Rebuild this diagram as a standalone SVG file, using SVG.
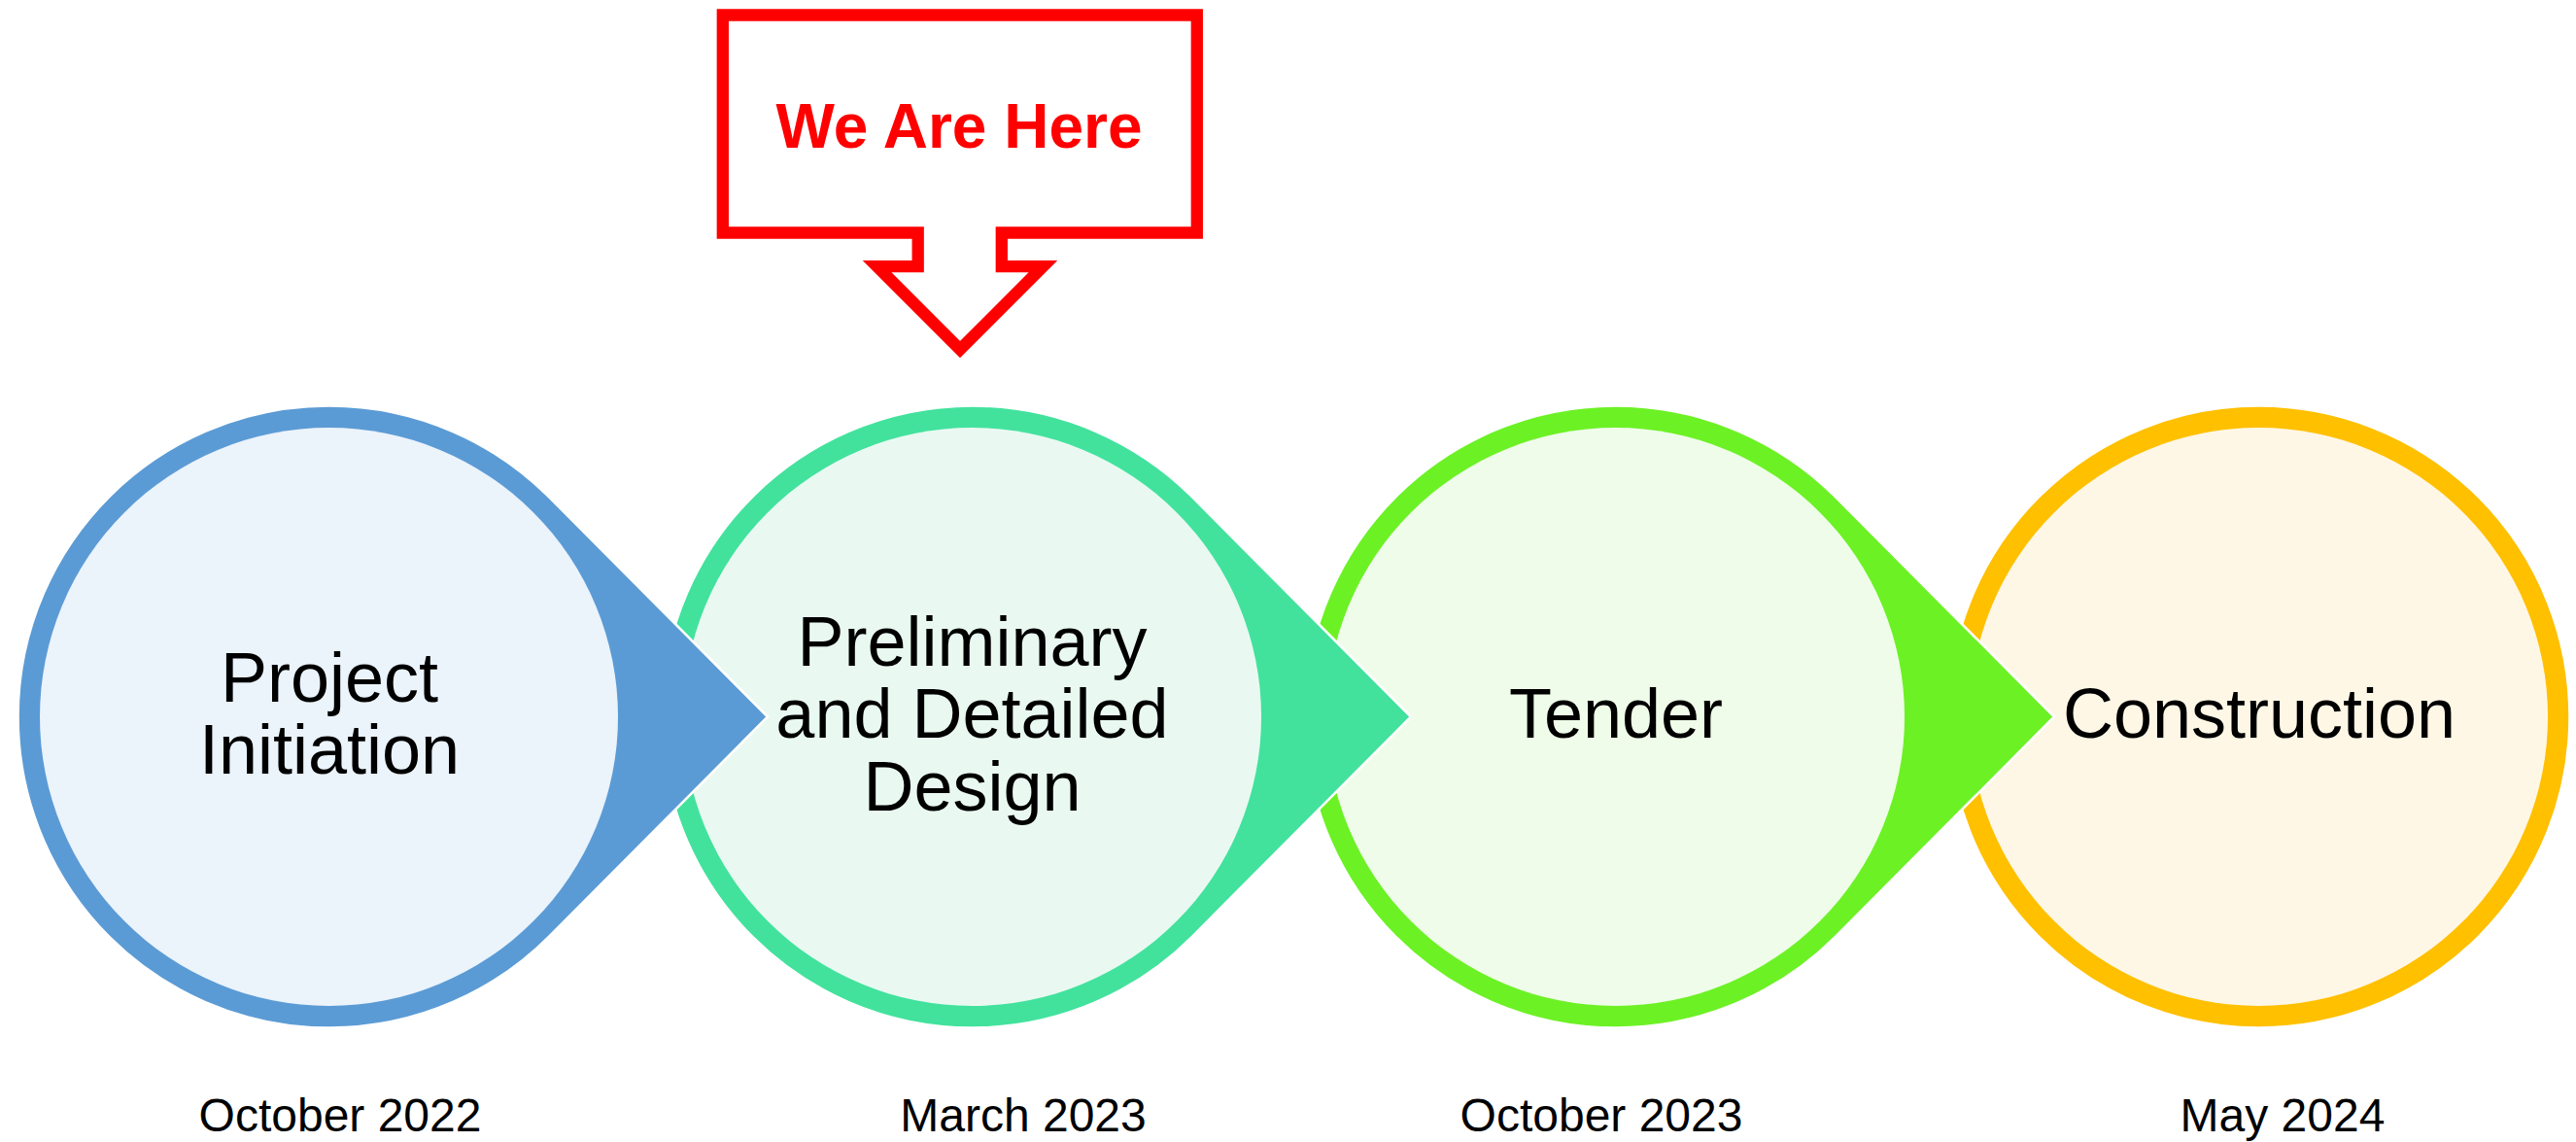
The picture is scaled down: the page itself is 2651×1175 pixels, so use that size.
<svg xmlns="http://www.w3.org/2000/svg" width="2651" height="1175" viewBox="0 0 2651 1175">
<style>
.outer{stroke:#FFFFFF;stroke-width:2.5}
.lbl{font-family:"Liberation Sans",Arial,sans-serif;font-size:72px;fill:#000000;text-anchor:middle}
.date{font-family:"Liberation Sans",Arial,sans-serif;font-size:48px;fill:#000000;text-anchor:middle}
.here{font-family:"Liberation Sans",Arial,sans-serif;font-size:64px;font-weight:bold;fill:#FF0000;text-anchor:middle}
</style>
<rect x="0" y="0" width="2651" height="1175" fill="#FFFFFF"/>
<g id="node-construction">
  <circle class="outer" cx="2324.5" cy="737.5" r="320" fill="#FFC000"/>
  <circle cx="2324.5" cy="737.5" r="297.5" fill="#FFF7E6"/>
  <text class="lbl" x="2325" y="758.5">Construction</text>
</g>
<g id="node-tender">
  <path class="outer" d="M2114 737.5 L1889.3 511.7 A320 320 0 1 0 1889.3 963.3 Z" fill="#6CF125"/>
  <circle cx="1662.5" cy="737.5" r="297.5" fill="#EFFCE9"/>
  <text class="lbl" x="1663" y="758.5">Tender</text>
</g>
<g id="node-design">
  <path class="outer" d="M1452 737.5 L1227.3 511.7 A320 320 0 1 0 1227.3 963.3 Z" fill="#42E29D"/>
  <circle cx="1000.5" cy="737.5" r="297.5" fill="#E9F9F2"/>
  <text class="lbl" x="1000.5" y="685">Preliminary</text>
  <text class="lbl" x="1000.5" y="759.3">and Detailed</text>
  <text class="lbl" x="1000.5" y="834">Design</text>
</g>
<g id="node-initiation">
  <path class="outer" d="M790 737.5 L565.3 511.7 A320 320 0 1 0 565.3 963.3 Z" fill="#5B9BD5"/>
  <circle cx="338.5" cy="737.5" r="297.5" fill="#EBF3FB"/>
  <text class="lbl" x="339" y="722.3">Project</text>
  <text class="lbl" x="339" y="796.4">Initiation</text>
</g>
<g id="callout-we-are-here">
  <polygon points="743.8,15.5 1231.8,15.5 1231.8,239.5 1030.8,239.5 1030.8,274.2 1073.4,274.2 988,359.6 902.6,274.2 944.7,274.2 944.7,239.5 743.8,239.5" fill="#FFFFFF" stroke="#FF0000" stroke-width="12.3" stroke-miterlimit="10"/>
  <text class="here" x="987" y="151.7">We Are Here</text>
</g>
<g id="dates">
  <text class="date" x="350" y="1164">October 2022</text>
  <text class="date" x="1053" y="1164">March 2023</text>
  <text class="date" x="1648" y="1164">October 2023</text>
  <text class="date" x="2349" y="1164">May 2024</text>
</g>
<g id="connectors"></g>
</svg>
